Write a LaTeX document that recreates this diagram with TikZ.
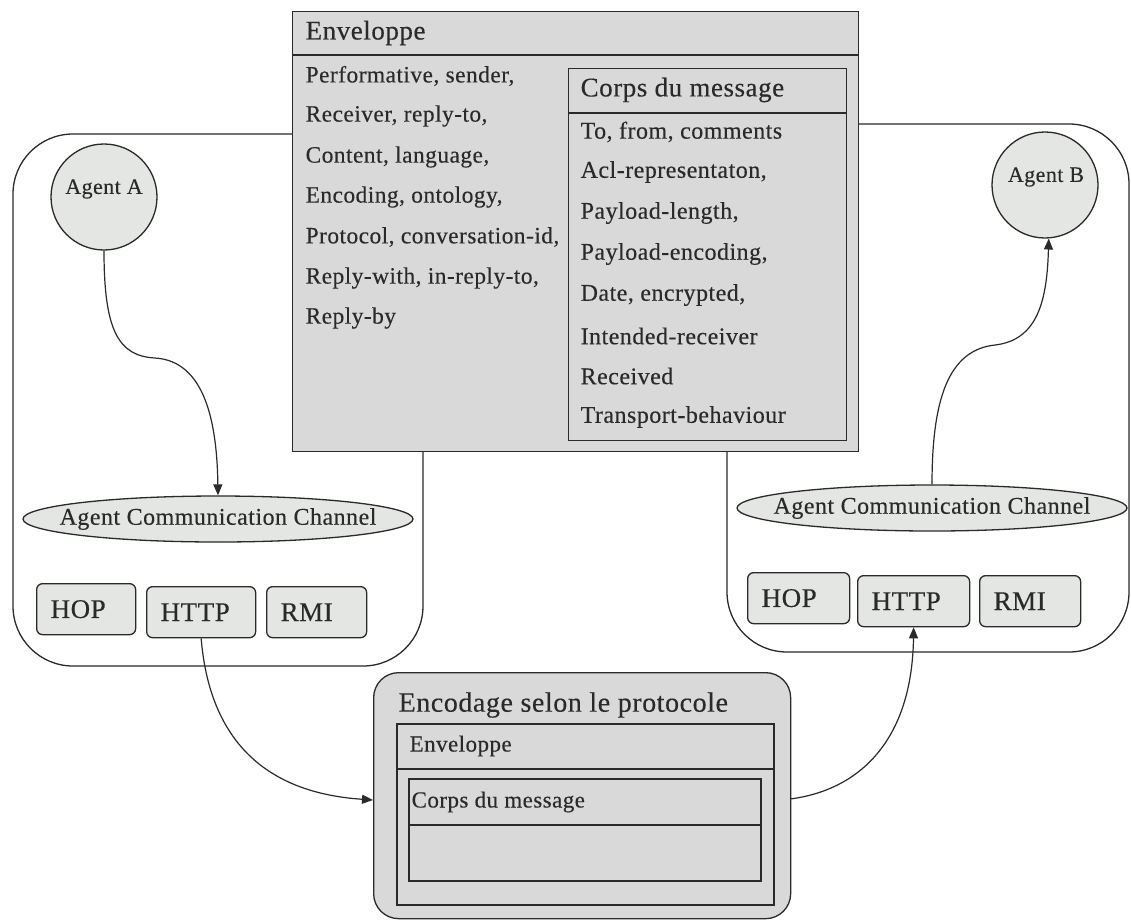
\documentclass[tikz,border=0pt]{standalone}
\usepackage{fontspec}
\setmainfont{Liberation Serif}[LetterSpace=2.0,FakeBold=0.3]
\usetikzlibrary{arrows.meta,shapes.geometric}
\definecolor{ink}{HTML}{2A2A2A}
\definecolor{boxgray}{HTML}{D9D9D9}
\definecolor{agentfill}{HTML}{E3E6E2}
\begin{document}
\begin{tikzpicture}[x=1pt,y=-1pt,line width=1.3pt,
  txt/.style={inner sep=0pt,anchor=west,text=ink,font=\fontsize{24}{27}\selectfont},
  field/.style={txt,font=\fontsize{23.4}{26}\selectfont},
  title/.style={txt,font=\fontsize{27}{30}\selectfont},
  container/.style={draw=ink,rounded corners=60pt},
  panel/.style={draw=ink,fill=boxgray,inner sep=0pt,anchor=north west},
  agent/.style={circle,draw=ink,fill=agentfill,minimum size=106pt,inner sep=0pt},
  channel/.style={ellipse,draw=ink,fill=agentfill,minimum width=390pt,minimum height=46pt,inner sep=0pt},
  proto/.style={draw=ink,fill=agentfill,rounded corners=6pt,minimum height=51pt,
    inner xsep=14pt,inner ysep=0pt,text width=#1,align=left,anchor=north west,
    text=ink,font=\fontsize{27}{30}\selectfont},
  arr/.style={draw=ink,line width=1.2pt,-{Triangle[length=11pt,width=9pt]}}]
\useasboundingbox (0,0) rectangle (1131,921);

% the two agent platforms
\draw[container] (13,134) rectangle (423,666);
\draw[container] (727,124) rectangle (1129,652);

% message envelope
\node[panel,minimum width=566pt,minimum height=440pt] (env) at (292,11) {};
\draw[ink] (292,55) -- (858,55);
\node[title] (envtitle) at (305,33) {Enveloppe};
\node[field] (e1) at (305,76)  {Performative, sender,};
\node[field] (e2) at (305,116) {Receiver, reply-to,};
\node[field] (e3) at (305,157) {Content, language,};
\node[field] (e4) at (305,197) {Encoding, ontology,};
\node[field] (e5) at (305,237) {Protocol, conversation-id,};
\node[field] (e6) at (305,278) {Reply-with, in-reply-to,};
\node[field] (e7) at (305,318) {Reply-by};

% message body inside the envelope
\node[panel,minimum width=278pt,minimum height=372pt] (body) at (568,68) {};
\draw[ink] (568,113) -- (846,113);
\node[title] (bodytitle) at (580,90) {Corps du message};
\node[txt] (b1) at (580,132) {To, from, comments};
\node[txt] (b2) at (580,172) {Acl-representaton,};
\node[txt] (b3) at (580,213) {Payload-length,};
\node[txt] (b4) at (580,254) {Payload-encoding,};
\node[txt] (b5) at (580,295) {Date, encrypted,};
\node[txt] (b6) at (580,336) {Intended-receiver};
\node[txt] (b7) at (580,376) {Received};
\node[txt] (b8) at (580,417) {Transport-behaviour};

% agents
\node[agent] (agentA) at (104,197) {};
\node[txt,anchor=center,font=\fontsize{22}{25}\selectfont] (agentAtxt) at (104,189) {Agent A};
\node[agent] (agentB) at (1045,185) {};
\node[txt,anchor=center,font=\fontsize{22}{25}\selectfont] (agentBtxt) at (1046,177) {Agent B};

% communication channels
\node[channel] (accA) at (218,519) {};
\node[txt,anchor=center] (accAtxt) at (accA.center) {Agent Communication Channel};
\node[channel] (accB) at (932,508) {};
\node[txt,anchor=center] (accBtxt) at (accB.center) {Agent Communication Channel};

% transport protocols
\node[proto=71pt] (hopA)  at (36,583)  {HOP};
\node[proto=81pt] (httpA) at (146,586) {HTTP};
\node[proto=72pt] (rmiA)  at (266,586) {RMI};
\node[proto=74pt] (hopB)  at (747,572) {HOP};
\node[proto=84pt] (httpB) at (857,575) {HTTP};
\node[proto=73pt] (rmiB)  at (979,575) {RMI};

% encoded message
\node[panel,rounded corners=25pt,minimum width=417pt,minimum height=246pt] (enc) at (373,672) {};
\node[title,font=\fontsize{28}{31}\selectfont] (enctitle) at (398,705) {Encodage selon le protocole};
\draw[ink] (397,724) rectangle (774,905);
\draw[ink] (397,769) -- (774,769);
\node[txt,font=\fontsize{23}{26}\selectfont] (encenv) at (409,746) {Enveloppe};
\draw[ink] (409,779) rectangle (761,881);
\draw[ink] (409,825) -- (761,825);
\node[txt,font=\fontsize{23}{26}\selectfont] (encbody) at (411,802) {Corps du message};

% connectors
\coordinate (bendA) at (155,358);
\coordinate (bendB) at (995,345);
\coordinate (encin) at (373,800);
\coordinate (encout) at (790,799);
\draw[arr] (agentA.south) .. controls (104,330) and (118,356) .. (bendA)
  .. controls (204,361) and (217,420) .. (accA.north);
\draw[arr] (accB.north) .. controls (932,400) and (948,350) .. (bendB)
  .. controls (1038,340) and (1047,300) .. (agentB.-86);
\draw[arr] (httpA.south) .. controls (212,770) and (300,795) .. (encin);
\draw[arr] (encout) .. controls (860,790) and (912,740) .. (httpB.south);
\end{tikzpicture}
\end{document}
